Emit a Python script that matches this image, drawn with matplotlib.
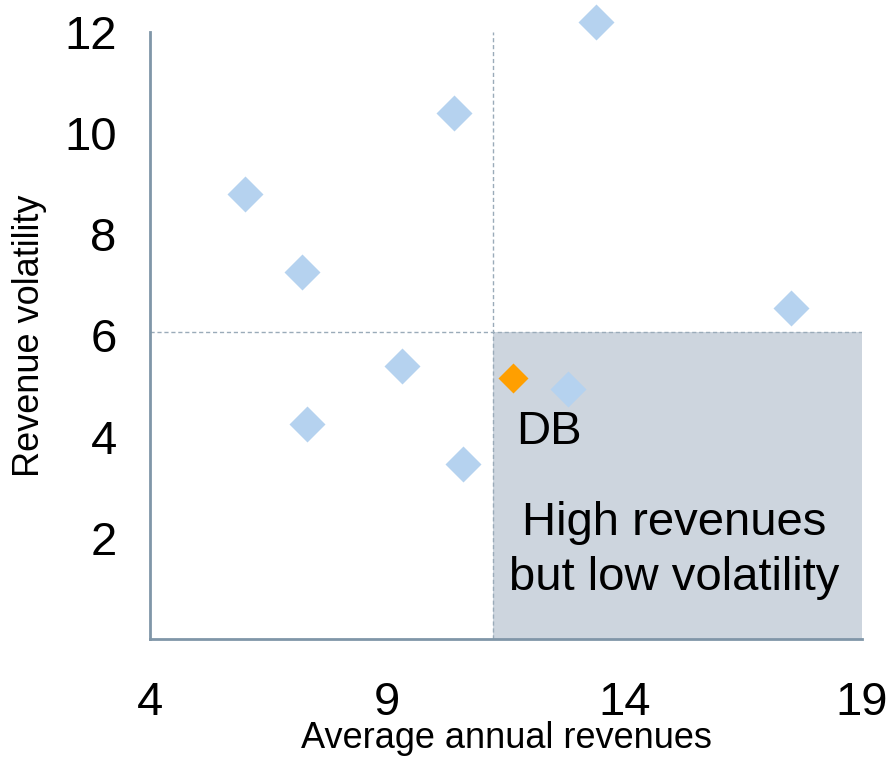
import numpy as np
import matplotlib.pyplot as plt
from matplotlib.patches import Rectangle

plt.rcParams['font.family'] = ['Liberation Sans', 'DejaVu Sans']

# peer banks: average annual revenues vs revenue volatility
peer_rev = [6.0, 7.2, 7.3, 9.3, 10.4, 10.6, 13.4, 12.8, 17.5]
peer_vol = [8.8, 7.25, 4.25, 5.4, 10.4, 3.45, 12.2, 4.95, 6.55]

# DB itself
db_rev = [11.65]
db_vol = [5.15]

# quadrant split
split_rev = 11.23
split_vol = 6.07

xticks = [4, 9, 14, 19]
yticks = [2, 4, 6, 8, 10, 12]

fig = plt.figure(figsize=(8.91, 7.62), dpi=100)
ax = fig.add_axes([150/891, 1-639/762, 712/891, 607/762])

ax.set_xlim(4, 19)
ax.set_ylim(0, 12)

# shaded "good" quadrant
ax.add_patch(Rectangle((split_rev, 0), 19 - split_rev, split_vol,
                       facecolor='#cdd5de', edgecolor='none', zorder=0))

# dashed quadrant lines
ax.plot([split_rev, split_rev], [0, 12], ls=(0, (3, 2)), lw=1, color='#9aabb9', zorder=1)
ax.plot([4, 19], [split_vol, split_vol], ls=(0, (3, 2)), lw=1, color='#9aabb9', zorder=1)

ax.plot(peer_rev, peer_vol, 'D', ms=18.5, color='#b5d2ef', mec='none', clip_on=False, zorder=3)
ax.plot(db_rev, db_vol, 'D', ms=15.5, color='#ff9f00', mec='none', clip_on=False, zorder=4)

ax.text(12.4, 4.1, 'DB', fontsize=34, ha='center', va='center')
ax.text(15.05, 1.75, 'High revenues\nbut low volatility', fontsize=34,
        ha='center', va='center', linespacing=1.3)

for s in ['top', 'right']:
    ax.spines[s].set_visible(False)
for s in ['left', 'bottom']:
    ax.spines[s].set_color('#8096a8')
    ax.spines[s].set_linewidth(2)

ax.set_xticks(xticks)
ax.set_yticks(yticks)
ax.tick_params(axis='both', length=0, labelsize=34)
ax.tick_params(axis='x', pad=30)
ax.tick_params(axis='y', pad=24)

ax.set_xlabel('Average annual revenues', fontsize=26, labelpad=-3)
ax.set_ylabel('Revenue volatility', fontsize=26, labelpad=12)

fig.savefig('out.png', dpi=100)
